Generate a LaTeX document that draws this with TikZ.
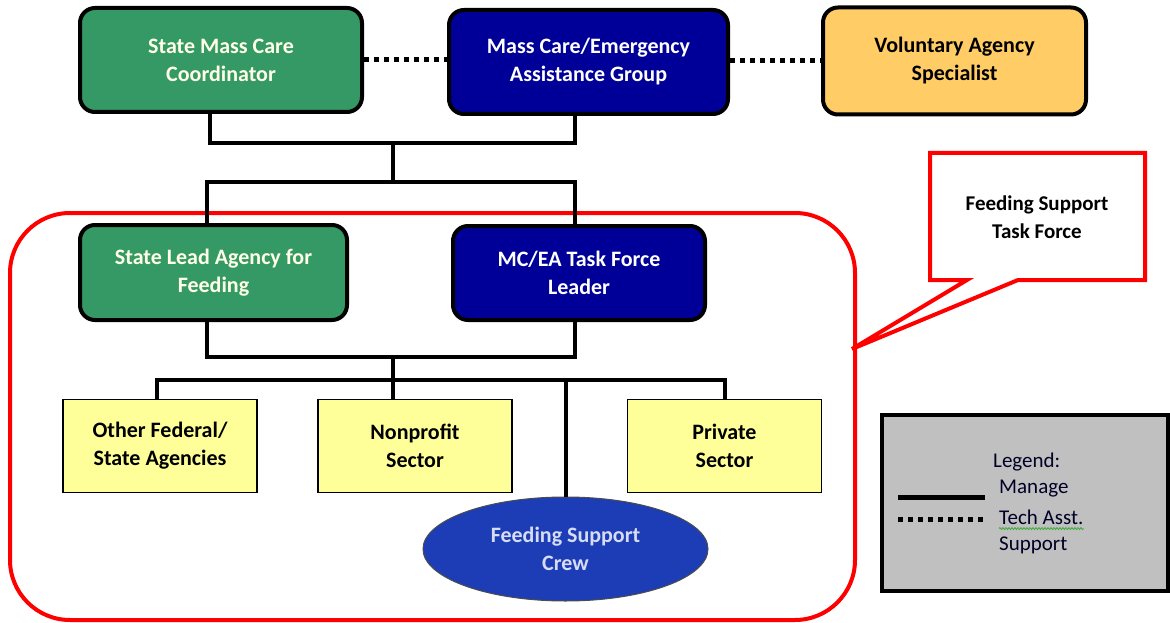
\documentclass[tikz,border=0pt]{standalone}
\usepackage{fontspec}
\setmainfont{Carlito}
\usetikzlibrary{calc,shapes.geometric,decorations.pathmorphing}

\definecolor{leadgreen}{RGB}{53,153,102}
\definecolor{fedblue}{RGB}{0,0,153}
\definecolor{volorange}{RGB}{255,204,102}
\definecolor{sectoryellow}{RGB}{255,255,153}
\definecolor{crewblue}{RGB}{28,61,181}
\definecolor{crewtext}{RGB}{214,220,242}
\definecolor{creamtext}{RGB}{255,255,230}
\definecolor{legendgray}{RGB}{192,192,192}
\definecolor{taskred}{RGB}{255,0,0}
\definecolor{spellgreen}{RGB}{60,170,60}

\tikzset{
  orgbox/.style={draw=black, line width=4pt, rounded corners=15pt, align=center,
    font=\fontsize{22}{28}\selectfont\bfseries, inner sep=0pt},
  greenbox/.style={orgbox, fill=leadgreen, text=creamtext},
  navybox/.style={orgbox, fill=fedblue, text=white},
  orangebox/.style={orgbox, fill=volorange, text=black},
  sectorbox/.style={draw=black, line width=1.5pt, fill=sectoryellow, align=center,
    font=\fontsize{22}{28}\selectfont\bfseries, inner sep=0pt, minimum width=194pt, minimum height=93pt},
  crewshape/.style={ellipse, draw=black!70, line width=1pt, fill=crewblue, text=crewtext,
    align=center, font=\fontsize{22}{28}\selectfont\bfseries, inner sep=0pt,
    minimum width=285pt, minimum height=104pt},
  manage/.style={draw=black, line width=4pt},
  techasst/.style={draw=black, line width=5pt, dash pattern=on 5pt off 5pt},
  taskframe/.style={draw=taskred, line width=4pt},
  legendtext/.style={anchor=west, inner sep=0pt, text=black!85!blue,
    font=\fontsize{21}{28}\selectfont},
}

\begin{document}
\begin{tikzpicture}[x=1pt,y=-1pt]
\useasboundingbox (0,0) rectangle (1170,623);

% task force frame
\draw[taskframe, rounded corners=60pt] (10,213) rectangle (855,620);

% top row
\node[greenbox, minimum width=282pt, minimum height=104pt] (smcc) at (221,60)
  {State Mass Care\\Coordinator};
\node[navybox, minimum width=279pt, minimum height=104pt] (mcea) at (588.5,62)
  {Mass Care/Emergency\\Assistance Group};
\node[orangebox, minimum width=263pt, minimum height=107pt] (vas) at (954.5,61)
  {Voluntary Agency\\Specialist};

% second row
\node[greenbox, minimum width=267pt, minimum height=95pt] (slaf) at (213.5,272.5)
  {State Lead Agency for\\Feeding};
\node[navybox, minimum width=252pt, minimum height=94pt] (tfl) at (579,273)
  {MC/EA Task Force\\Leader};

% sectors
\node[sectorbox] (ofs) at (160,446) {Other Federal/\\State Agencies};
\node[sectorbox] (nps) at (415,446) {Nonprofit\\Sector};
\node[sectorbox] (pvs) at (724.5,446) {Private\\Sector};

% crew
\node[crewshape] (crew) at (565.5,549) {Feeding Support\\Crew};

% bus junctions
\coordinate (j1) at (393,143);
\coordinate (j2) at (393,182);
\coordinate (j3) at (393,357);
\coordinate (j4) at (393,380);

% technical assistance links
\draw[techasst] (smcc.east) -- (smcc.east -| mcea.west);
\draw[techasst] (mcea.east |- vas.west) -- (vas.west);

% management links, top
\draw[manage] ([xshift=-11pt]smcc.south) |- (j1);
\draw[manage] ([xshift=-13.5pt]mcea.south) |- (j1);
\draw[manage] (j1) -- (j2);
\draw[manage] (j2) -| ([xshift=-6.5pt]slaf.north);
\draw[manage] (j2) -| ([xshift=-4pt]tfl.north);

% management links, task force
\draw[manage] ([xshift=-6.5pt]slaf.south) |- (j3);
\draw[manage] ([xshift=-4pt]tfl.south) |- (j3);
\draw[manage] (j3) -- (j4);
\draw[manage] (j4) -| ([xshift=-3pt]ofs.north);
\draw[manage] (j4) -- (j4 |- nps.north);
\draw[manage] (j4) -| (pvs.north);
\draw[manage] (j4 -| crew.north) -- (crew.north);

% callout
\coordinate (tip) at (852,349);
\draw[taskframe, fill=white, line join=miter]
  (930,153) -- (1145,153) -- (1145,280) -- (1018,280) -- (tip) -- (967,280) -- (930,280) -- cycle;
\node[align=center, inner sep=0pt, font=\fontsize{21}{28}\selectfont\bfseries] (fst) at (1037,217)
  {Feeding Support\\Task Force};

% legend
\node[draw=black, line width=4pt, fill=legendgray, minimum width=286pt, minimum height=176pt, inner sep=0pt]
  (legend) at (1025,503) {};
\coordinate (lsA) at (898,497);
\coordinate (lsB) at (985,497);
\coordinate (ldA) at (898,519);
\coordinate (ldB) at (985,519);
\draw[manage, line width=5pt] (lsA) -- (lsB);
\draw[techasst] (ldA) -- (ldB);
\node[legendtext] (lg0) at (993,462) {Legend:};
\node[legendtext] (lg1) at (999,489) {Manage};
\node[legendtext] (lg2) at (999,517) {Tech Asst.};
\node[legendtext] (lg3) at (999,545) {Support};
\draw[spellgreen, line width=0.8pt, decorate, decoration={snake, amplitude=1pt, segment length=3pt}]
  ([yshift=-4pt]lg2.south west) -- ([yshift=-4pt]lg2.south east);
\end{tikzpicture}
\end{document}
